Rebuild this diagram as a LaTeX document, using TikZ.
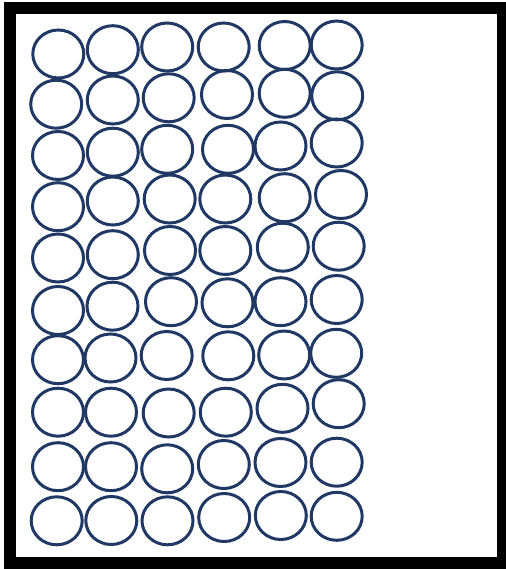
\documentclass[tikz,border=0pt]{standalone}
\usetikzlibrary{shapes.geometric}
\definecolor{ringblue}{RGB}{31,56,100}
\tikzset{ring/.style={draw=ringblue, line width=3pt, ellipse, inner sep=0pt, minimum width=51pt, minimum height=48pt}}
\begin{document}
\begin{tikzpicture}[x=1pt, y=-1pt]
\useasboundingbox (0,0) rectangle (505,569);
\draw[line width=12pt] (10,8.5) rectangle (503,563);
% row 1
\node[ring] (c11) at (58.3,54) {};
\node[ring] (c12) at (112.8,49.7) {};
\node[ring] (c13) at (167.2,47) {};
\node[ring] (c14) at (223.7,47) {};
\node[ring] (c15) at (284.7,45.5) {};
\node[ring] (c16) at (336.7,45) {};
% row 2
\node[ring] (c21) at (56.2,104.2) {};
\node[ring] (c22) at (112.8,100) {};
\node[ring] (c23) at (168.7,97.8) {};
\node[ring] (c24) at (227,94.5) {};
\node[ring] (c25) at (284.7,93.3) {};
\node[ring] (c26) at (337.2,95.8) {};
% row 3
\node[ring] (c31) at (58,155.5) {};
\node[ring] (c32) at (112.8,152.2) {};
\node[ring] (c33) at (167.2,149.3) {};
\node[ring] (c34) at (228,149.3) {};
\node[ring] (c35) at (280.5,146) {};
\node[ring] (c36) at (336.7,143) {};
% row 4
\node[ring] (c41) at (58,206.7) {};
\node[ring] (c42) at (112.8,201) {};
\node[ring] (c43) at (169.7,199) {};
\node[ring] (c44) at (225.3,199) {};
\node[ring] (c45) at (284.7,197.7) {};
\node[ring] (c46) at (341,194.5) {};
% row 5
\node[ring] (c51) at (58,258) {};
\node[ring] (c52) at (112.8,254.7) {};
\node[ring] (c53) at (170,250.5) {};
\node[ring] (c54) at (225.3,250.5) {};
\node[ring] (c55) at (282.8,247.2) {};
\node[ring] (c56) at (338.7,246.2) {};
% row 6
\node[ring] (c61) at (58,310.5) {};
\node[ring] (c62) at (112.5,306.2) {};
\node[ring] (c63) at (171,301.7) {};
\node[ring] (c64) at (227.5,302.8) {};
\node[ring] (c65) at (280.5,301.7) {};
\node[ring] (c66) at (336.7,299.5) {};
% row 7
\node[ring] (c71) at (58,359.7) {};
\node[ring] (c72) at (110.5,358) {};
\node[ring] (c73) at (166.7,355.5) {};
\node[ring] (c74) at (228.3,355.8) {};
\node[ring] (c75) at (284.2,355) {};
\node[ring] (c76) at (336.2,353.3) {};
% row 8
\node[ring] (c81) at (58,412.2) {};
\node[ring] (c82) at (111,412.2) {};
\node[ring] (c83) at (168.7,413) {};
\node[ring] (c84) at (225.8,412.2) {};
\node[ring] (c85) at (282.5,408.3) {};
\node[ring] (c86) at (338.7,403.7) {};
% row 9
\node[ring] (c91) at (58,466.7) {};
\node[ring] (c92) at (111,466.7) {};
\node[ring] (c93) at (167.2,468.8) {};
\node[ring] (c94) at (223.8,464.5) {};
\node[ring] (c95) at (280.5,462.5) {};
\node[ring] (c96) at (336.7,462.2) {};
% row 10
\node[ring] (c101) at (56.7,520.8) {};
\node[ring] (c102) at (111.3,520.5) {};
\node[ring] (c103) at (167.5,520.8) {};
\node[ring] (c104) at (224.2,517.5) {};
\node[ring] (c105) at (280.8,515.5) {};
\node[ring] (c106) at (336.7,516.3) {};
\end{tikzpicture}
\end{document}
